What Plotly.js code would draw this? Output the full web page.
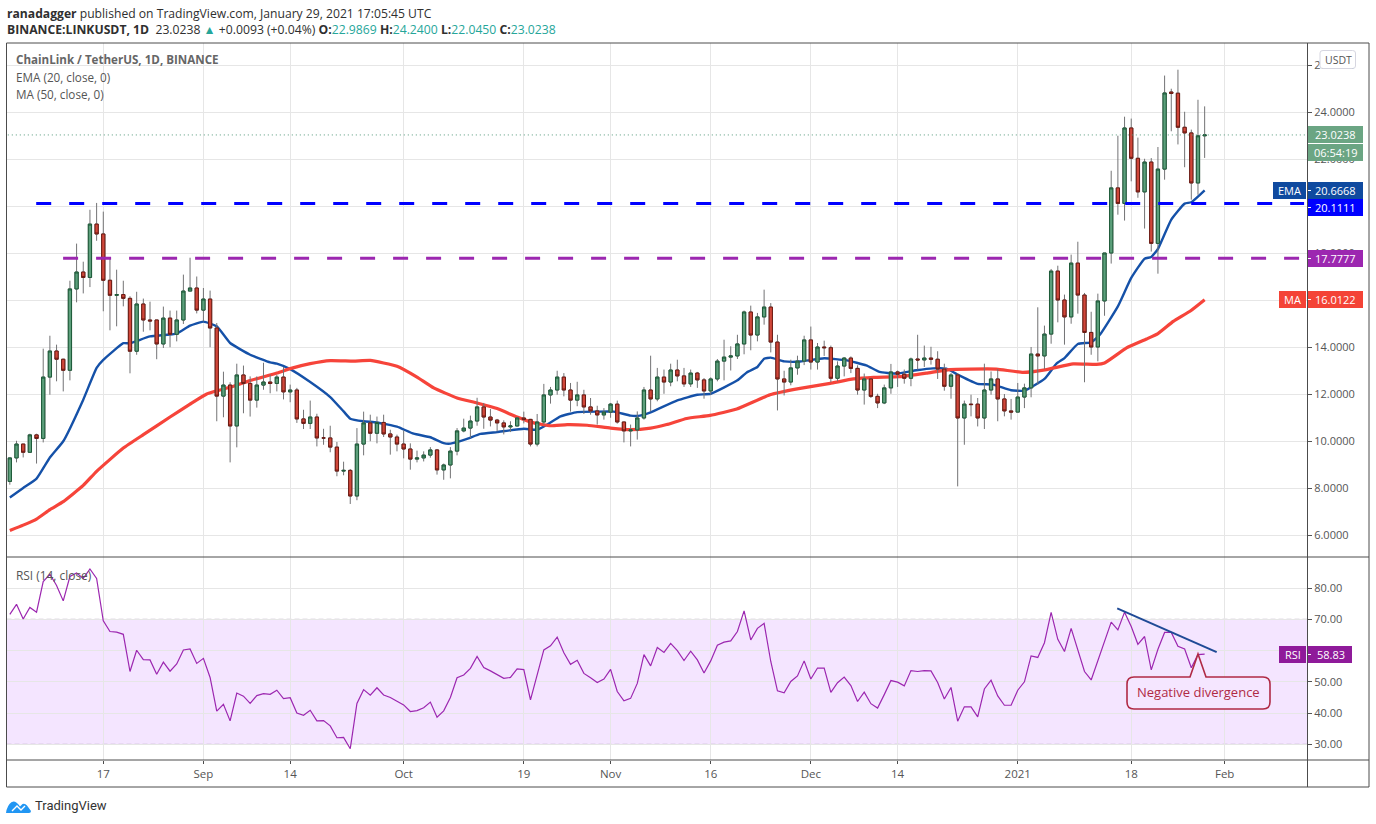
<!DOCTYPE html>
<html><head><meta charset="utf-8">
<script src="https://cdn.plot.ly/plotly-3.0.1.min.js"></script>
<style>html,body{margin:0;padding:0;background:#fff;overflow:hidden}#c{width:1376px;height:824px}</style>
</head><body><div id="c"></div>
<script>
const firstDay = Date.UTC(2020,7,3);
const opens = [8.28,9.28,9.87,9.52,10.26,10.11,12.72,13.83,13.48,13.01,
16.47,17.19,16.96,19.23,18.81,16.84,16.20,16.23,16.07,13.82,
15.83,15.15,15.15,14.13,15.23,14.54,15.15,16.38,16.51,15.57,
16.04,14.81,11.91,12.38,10.64,12.81,12.45,11.74,12.38,12.51,
12.45,12.72,12.09,12.17,10.94,10.75,11.02,10.13,10.13,9.74,
8.72,8.75,7.66,9.87,10.77,10.33,10.79,10.30,10.17,9.87,
9.66,9.23,9.28,9.40,9.62,8.77,8.98,9.57,10.43,10.55,
10.85,11.45,11.02,10.89,10.77,10.60,10.64,10.98,10.92,9.87,
10.81,11.96,12.17,12.72,12.17,11.74,11.96,11.45,11.28,11.11,
11.23,11.57,10.81,10.43,10.47,10.98,12.17,11.79,12.72,12.51,
13.02,12.77,12.43,12.89,12.60,12.13,12.64,13.40,13.57,13.62,
14.13,15.49,14.51,15.28,15.70,14.21,12.64,12.51,13.11,13.40,
14.30,13.36,14.00,13.97,12.67,13.19,13.53,13.09,12.17,12.64,
11.90,11.62,12.26,12.94,12.84,12.67,13.49,13.45,13.53,13.48,
13.06,12.33,12.81,10.98,11.57,11.57,10.98,12.17,12.64,11.79,
11.28,11.23,11.87,12.26,13.70,13.62,14.55,17.23,16.00,15.28,
17.57,16.21,14.62,14.00,15.96,18.00,20.77,20.11,23.32,22.03,
20.60,21.87,18.41,21.57,24.85,24.80,23.35,23.11,20.98,22.9869];
const closes = [9.28,9.87,9.52,10.26,10.11,12.72,13.83,13.48,13.01,16.47,
17.19,16.96,19.23,18.81,16.84,16.20,16.23,16.07,13.82,15.83,
15.15,15.11,14.13,15.23,14.54,15.15,16.38,16.51,15.57,16.04,
14.81,11.91,12.38,10.64,12.81,12.45,11.74,12.38,12.51,12.45,
12.72,12.09,12.17,10.94,10.75,11.02,10.13,10.13,9.74,8.72,
8.75,7.66,9.87,10.77,10.33,10.79,10.30,10.17,9.87,9.66,
9.23,9.28,9.40,9.62,8.77,8.98,9.57,10.43,10.55,10.85,
11.45,11.02,10.89,10.77,10.60,10.64,10.98,10.92,9.87,10.81,
11.96,12.17,12.72,12.17,11.74,11.96,11.45,11.28,11.11,11.23,
11.57,10.81,10.43,10.47,10.98,12.17,11.79,12.72,12.51,13.02,
12.77,12.43,12.89,12.60,12.13,12.64,13.40,13.57,13.62,14.13,
15.49,14.51,15.28,15.70,14.21,12.64,12.51,13.11,13.40,14.30,
13.36,14.00,13.97,12.67,13.19,13.53,13.09,12.17,12.64,11.90,
11.62,12.26,12.94,12.84,12.67,13.49,13.45,13.53,13.48,13.06,
12.33,12.81,10.98,11.57,11.55,10.98,12.17,12.64,11.79,11.28,
11.23,11.87,12.26,13.70,13.62,14.55,17.23,16.00,15.28,17.57,
16.21,14.62,14.00,15.96,18.00,20.77,20.11,23.32,22.03,20.60,
21.87,18.41,21.57,24.81,24.79,23.35,23.11,20.98,22.9869,23.0238];
const highs = [9.30,10.01,9.87,10.31,10.31,13.93,14.48,14.10,13.50,16.82,
18.40,17.63,19.84,20.13,19.76,17.79,17.29,16.82,16.16,16.35,
16.06,15.93,15.15,15.72,15.55,15.55,17.08,17.80,17.00,16.51,
16.40,15.02,12.95,12.50,13.29,13.21,12.75,12.75,13.33,12.82,
12.82,13.15,12.40,12.26,11.33,11.72,11.16,10.52,10.65,9.96,
9.12,8.81,10.55,11.25,11.12,11.04,11.12,10.48,10.27,10.45,
9.90,9.59,9.56,9.74,9.66,9.04,9.74,10.55,10.95,11.08,
11.84,11.62,11.36,10.94,10.88,10.84,11.02,11.25,10.94,11.15,
12.43,12.30,12.99,12.89,12.47,12.52,12.18,11.83,11.50,11.40,
11.62,11.72,10.81,10.70,11.26,12.30,13.63,13.11,13.04,13.29,
13.46,13.11,13.04,12.94,12.68,12.71,13.49,14.31,14.03,14.52,
15.55,15.76,15.45,16.44,15.87,14.52,12.99,13.46,13.63,14.48,
14.87,14.17,14.27,14.06,13.39,13.57,13.60,13.22,12.87,12.68,
12.01,12.40,13.28,13.00,13.04,13.55,14.52,14.06,14.01,13.82,
13.29,12.89,12.89,11.72,11.97,11.83,13.29,12.96,13.06,12.00,
11.79,12.47,12.44,14.00,15.69,14.91,17.32,17.46,16.23,17.93,
18.48,16.30,15.50,16.27,18.00,21.50,22.99,23.80,23.72,22.91,
22.01,22.04,22.51,25.55,24.99,25.80,24.01,23.25,24.52,24.24];
const lows = [8.14,9.09,9.30,9.49,9.04,9.94,11.97,12.54,12.11,12.58,
15.90,16.28,16.55,18.52,15.52,14.71,14.88,15.73,12.88,13.67,
14.65,14.71,13.48,13.96,13.99,14.24,14.98,16.38,15.43,15.09,
13.99,10.84,11.01,9.09,9.73,11.18,11.04,11.42,12.18,12.03,
12.11,11.77,11.65,10.77,10.51,10.51,9.77,9.84,9.52,8.50,
8.54,7.32,7.48,9.39,9.99,9.90,10.17,9.42,9.56,9.26,
8.78,9.09,9.13,9.29,8.57,8.35,8.41,9.39,10.37,10.13,
10.65,10.52,10.62,10.41,10.28,10.38,10.62,10.75,9.77,9.77,
10.70,11.59,11.97,11.90,11.25,11.48,11.15,11.12,10.70,10.91,
10.99,10.74,9.94,9.77,10.06,10.91,11.26,11.69,12.01,12.33,
12.54,12.30,12.30,12.26,11.80,11.97,12.54,12.58,13.00,13.49,
13.69,13.86,14.24,14.95,13.77,11.30,11.94,12.37,12.82,13.23,
13.04,13.04,13.62,12.50,12.54,12.75,12.89,11.97,11.55,11.83,
11.40,11.57,12.01,12.30,12.44,12.33,13.04,13.15,13.25,12.64,
12.14,11.80,8.07,9.84,11.05,10.62,10.51,11.97,10.84,11.05,
10.91,11.23,11.40,11.86,12.40,13.06,14.14,15.05,14.10,14.99,
15.42,12.50,13.67,13.39,15.33,17.55,19.63,19.38,21.05,20.35,
19.04,18.06,17.12,21.12,23.18,22.62,21.65,20.27,20.48,22.045];
const rsi = [71.6,74.8,70.1,73.8,72.3,82.1,84.4,80.8,75.9,83.7,
84.8,83.1,86.1,83.1,69.5,66.1,65.9,65.2,53.3,60.1,
57.1,57.0,52.4,56.3,53.4,55.7,60.2,60.5,55.9,57.5,
51.4,40.6,42.8,37.5,46.4,45.4,43.1,45.6,46.2,46.0,
47.3,44.6,44.9,40.0,39.3,40.9,37.5,37.6,35.9,32.1,
32.2,28.6,43.1,47.5,45.7,48.1,45.8,45.0,43.8,42.6,
40.5,40.8,41.7,43.5,38.7,40.7,45.0,51.3,52.2,54.3,
58.1,54.6,53.5,52.3,51.1,51.4,54.1,53.9,44.2,52.2,
60.2,61.5,64.3,59.3,55.6,56.9,52.7,51.3,49.8,50.9,
54.0,46.9,43.9,44.7,49.5,58.7,55.1,61.0,59.4,62.3,
60.0,56.8,59.8,57.0,52.8,56.7,61.7,62.7,63.1,66.1,
72.7,63.4,67.1,68.7,56.5,47.1,46.5,50.1,51.9,56.7,
50.9,54.4,54.4,46.6,49.7,51.5,48.8,43.7,46.7,43.0,
41.6,45.9,50.4,49.9,48.7,53.6,53.3,53.6,53.5,49.8,
44.5,48.2,37.4,42.0,42.0,38.8,47.7,50.5,45.5,42.5,
42.5,47.3,50.0,58.3,57.8,62.5,72.2,63.6,59.7,67.1,
60.2,53.3,50.6,56.9,62.9,69.1,66.6,72.3,67.7,62.0,
64.5,53.8,60.4,65.8,65.8,61.4,60.5,54.5,58.7,58.83];
const emaDays = [0,2,4,6,8,11,13,14,17,18,21,25,27,29,31,33,36,39,40,42,45,48,50,51,53,55,58,60.5,63,65,66,68.5,70.5,73,77,79,80.5,82.5,85,88,90.5,93,94.4,96,100,103,105,109,110.4,112,113,114,116,118.4,122,125.4,128.3,130.3,132.8,135.8,138.3,140.3,142.3,145,147.3,150,152,155,156.8,158,160,162,163.3,166,168,170,171,172,174,176,177,179];
const emaValues = [7.60,8.00,8.40,9.30,9.99,11.76,13.11,13.45,14.16,14.16,14.45,14.57,14.91,15.08,14.88,14.17,13.67,13.35,13.29,13.06,12.51,11.87,11.26,10.95,10.84,10.79,10.61,10.31,10.16,9.91,9.89,10.09,10.30,10.38,10.52,10.48,10.70,11.05,11.23,11.25,11.25,11.08,11.08,11.22,11.73,11.97,12.01,12.58,12.92,13.15,13.50,13.55,13.39,13.38,13.52,13.43,13.22,12.94,12.87,13.01,13.09,13.08,12.78,12.43,12.40,12.16,12.14,12.64,13.29,13.53,14.13,14.20,14.52,15.73,16.94,17.76,17.83,18.17,19.42,20.10,20.16,20.6668];
const maDays = [0,2,4,6,8,11,13,17,20,24,27,29.5,33.5,36,40,42,45,48,51.5,54,58,61,63.5,67,70,73,76,78.5,81,83.5,86.5,90,93,96,98.4,101.4,104.9,108.9,113.9,118.4,122.9,126.4,129.4,133.3,137.3,140.8,143.8,147.8,151.8,155.3,159.3,162.8,164,167.3,170.3,172,174.3,176.8,179];
const maValues = [6.19,6.42,6.68,7.08,7.42,8.11,8.71,9.70,10.27,11.02,11.57,12.00,12.33,12.57,12.89,13.08,13.29,13.42,13.40,13.43,13.18,12.72,12.26,11.83,11.62,11.38,11.02,10.77,10.65,10.70,10.67,10.55,10.48,10.55,10.70,10.96,11.09,11.36,11.97,12.24,12.45,12.64,12.71,12.74,12.89,13.04,13.06,13.06,12.92,13.04,13.28,13.26,13.32,13.96,14.34,14.57,15.09,15.52,16.0122];
const blueLevel = 20.1111, purpleLevel = 17.7777, lastPrice = 23.0238;
const tickDates = ['2020-08-17','2020-09-01','2020-09-14','2020-10-01','2020-10-19','2020-11-01','2020-11-16','2020-12-01','2020-12-14','2021-01-01','2021-01-18','2021-02-01'];
const tickLabels = ['17','Sep','14','Oct','19','Nov','16','Dec','14','2021','18','Feb'];
const priceTicks = [6,8,10,12,14,16,18,20,22,24,26];
const rsiTicks = [30,40,50,60,70,80];
const trendDays = [165.9,180.8], trendValues = [73.5,59.5];

const FONT = '"Open Sans", sans-serif';
const d = i => new Date(firstDay + i*864e5).toISOString().slice(0,19);
const days = opens.map((_,i)=>d(i));
const W=1376,H=824, fx=x=>x/W, fy=y=>1-y/H;

const common = {xaxis:'x', hoverinfo:'skip', showlegend:false};
const wick = '#737375';
const traces = [
 {...common,type:'scatter',mode:'lines',yaxis:'y',x:emaDays.map(d),y:emaValues,line:{color:'#1551a8',width:2.4,shape:'spline',smoothing:0.4}},
 {...common,type:'scatter',mode:'lines',yaxis:'y',x:maDays.map(d),y:maValues,line:{color:'#f6443a',width:3.2,shape:'spline',smoothing:0.4}},
 {...common,type:'candlestick',yaxis:'y3',x:days,open:opens,high:highs,low:lows,close:closes,whiskerwidth:0,
  increasing:{line:{color:wick,width:1},fillcolor:wick},decreasing:{line:{color:wick,width:1},fillcolor:wick}},
 {...common,type:'candlestick',yaxis:'y3',x:days,open:opens,close:closes,
  high:opens.map((o,i)=>Math.max(o,closes[i])),low:opens.map((o,i)=>Math.min(o,closes[i])),whiskerwidth:0,
  increasing:{line:{color:'#1d5b39',width:1},fillcolor:'#5c9f7b'},decreasing:{line:{color:'#6d1a12',width:1},fillcolor:'#d0473a'}},
 {...common,type:'scatter',mode:'lines',yaxis:'y4',x:[d(-3.9),d(195)],y:[lastPrice,lastPrice],line:{color:'#53987a',width:1,dash:'1px,3px'}},
 {...common,type:'scatter',mode:'lines',yaxis:'y4',x:[d(3.95),d(193.9)],y:[blueLevel,blueLevel],line:{color:'#0000ff',width:3,dash:'15px,18px'}},
 {...common,type:'scatter',mode:'lines',yaxis:'y4',x:[d(7.98),d(194)],y:[purpleLevel,purpleLevel],line:{color:'#9c27b0',width:3,dash:'15px,18px'}},
 {...common,type:'scatter',mode:'lines',yaxis:'y2',x:days,y:rsi,line:{color:'#9c27b0',width:1.2}},
 {...common,type:'scatter',mode:'lines',yaxis:'y2',x:trendDays.map(d),y:trendValues,line:{color:'#1f4a96',width:2}}
];

const priceRange=[5.064,26.936], rsiRange=[24.98,89.94];
const rect=(x0,y0,x1,y1,fill,extra={})=>({type:'rect',xref:'paper',yref:'paper',x0:fx(x0),x1:fx(x1),y0:fy(y0),y1:fy(y1),fillcolor:fill,line:{width:0},layer:'above',...extra});
const ln=(x0,y0,x1,y1,color,w=1)=>({type:'line',xref:'paper',yref:'paper',x0:fx(x0),x1:fx(x1),y0:fy(y0),y1:fy(y1),line:{color,width:w},layer:'above'});
const path=(s,fill,line)=>({type:'path',xref:'paper',yref:'paper',path:s.replace(/(-?[\d.]+) (-?[\d.]+)/g,(m,a,b)=>fx(+a)+' '+fy(+b)),fillcolor:fill,line,layer:'above'});
const frame='#4c4c4c';
const tags=[[126,143,'#6ba583'],[144,161,'#6ba583'],[182,199,'#0f4a9f'],[199,216,'#0000ff'],[250,267,'#9c27b0'],[291,308,'#f44336']];
const shapes=[
 {type:'rect',xref:'paper',yref:'y2',x0:fx(6.5),x1:fx(1307),y0:30,y1:70,fillcolor:'rgba(152,0,255,0.1)',line:{width:0},layer:'below'},
 {type:'line',xref:'paper',yref:'y2',x0:fx(6.5),x1:fx(1307),y0:70,y1:70,line:{color:'#b4a3bc',width:1,dash:'5px,3px'},layer:'below'},
 {type:'line',xref:'paper',yref:'y2',x0:fx(6.5),x1:fx(1307),y0:30,y1:30,line:{color:'#b4a3bc',width:1,dash:'5px,3px'},layer:'below'},
 ...tags.map(t=>rect(1307,t[0],1363,t[1],t[2])),
 rect(1273,182,1306,199,'#0f4a9f'), rect(1279,291,1306,308,'#f44336'),
 rect(1279,646,1306,663,'#8f1a9a'), rect(1307,646,1352,663,'#8f1a9a'),
 ...[190.5,207.5,258.5,299.5,654.5].map(y=>ln(1307,y,1311,y,'#ffffff',1)),
 ln(6.5,43,1369,43,frame), ln(6.5,787,1369,787,frame), ln(6.5,43,6.5,787,frame), ln(1369,43,1369,787,frame),
 ln(1307.5,43,1307.5,787,frame), ln(6.5,557,1369,557,frame), ln(6.5,760,1369,760,frame),
 path('M1320 53 Q1320 50.5 1323 50.5 L1352.5 50.5 Q1355.5 50.5 1355.5 53 L1355.5 66 Q1355.5 68.5 1352.5 68.5 L1323 68.5 Q1320 68.5 1320 66 Z','#ffffff',{color:'#d6d6e0',width:1}),
 path('M1134 677 L1190 677 L1198 654 L1206 677 L1263 677 Q1270 677 1270 684 L1270 702 Q1270 709 1263 709 L1134 709 Q1127 709 1127 702 L1127 684 Q1127 677 1134 677 Z','#f5e6ff',{color:'#b02a45',width:1.6}),
 path('M6 813 L6.5 810 Q9 802 13.5 801.5 Q16.5 801.5 20 806.5 L22.5 804 Q25 803 27 805.5 L31 811 Q31 813 29 813 Z','#2196f3',{width:0}),
 {type:'path',xref:'paper',yref:'paper',path:`M${fx(12)} ${fy(811)} L${fx(17)} ${fy(806)} L${fx(21)} ${fy(810)} L${fx(25)} ${fy(806)}`,line:{color:'#ffffff',width:1.4},layer:'above'}
];
const T=(x,y,text,o={})=>({xref:'paper',yref:'paper',x:fx(x),y:fy(y),text,showarrow:false,xanchor:o.a||'left',yanchor:'middle',align:o.a||'left',
 font:{family:o.f||FONT,size:o.s||12,color:o.c||'#555555'},borderpad:0});
const tv='#26a69a';
const v=(s)=>`<span style="color:${tv}">${s}</span>`;
const annotations=[
 T(5.5,13,'<b>ranadagger</b> published on TradingView.com, January 29, 2021 17:05:45 UTC',{c:'#2f2f2f',s:12.15}),
 T(5.5,30,`<b>BINANCE:LINKUSDT, 1D</b>&nbsp;&nbsp;23.0238 ${v('▲')} +0.0093 (+0.04%) <b>O:</b>${v('22.9869')} <b>H:</b>${v('24.2400')} <b>L:</b>${v('22.0450')} <b>C:</b>${v('23.0238')}`,{c:'#2f2f2f',s:12.2}),
 T(14.5,60,'<b>ChainLink / TetherUS, 1D, BINANCE</b>',{s:11.6,c:'#666666'}),
 T(14.5,77,'EMA (20, close, 0)',{s:11.7}),
 T(14.5,94,'MA (50, close, 0)',{s:11.7}),
 T(14.5,575,'RSI (14, close)',{s:11.9}),
 T(1338,59.5,'USDT',{a:'center',s:10.5}),
 T(1335.5,134.5,'23.0238',{a:'center',c:'#fff',s:11}),
 T(1335.5,152.5,'06:54:19',{a:'center',c:'#fff',s:11}),
 T(1335.5,190.5,'20.6668',{a:'center',c:'#fff',s:11}),
 T(1335.5,207.5,'20.1111',{a:'center',c:'#fff',s:11}),
 T(1335.5,258.5,'17.7777',{a:'center',c:'#fff',s:11}),
 T(1335.5,299.5,'16.0122',{a:'center',c:'#fff',s:11}),
 T(1289.5,190.5,'EMA',{a:'center',c:'#fff',s:11}),
 T(1292.5,299.5,'MA',{a:'center',c:'#fff',s:11}),
 T(1292.5,654.5,'RSI',{a:'center',c:'#fff',s:11}),
 T(1331,654.5,'58.83',{a:'center',c:'#fff',s:11}),
 T(1198.5,692,'Negative divergence',{a:'center',c:'#b02a45',s:13}),
 T(33.5,805,'TradingView',{c:'#333333',s:13,f:'Roboto, sans-serif'})
];
const hidden={range:priceRange,overlaying:'y',side:'right',showgrid:false,zeroline:false,showticklabels:false,ticks:'',fixedrange:true};
const tickFont={family:FONT,size:11,color:'#555'};
const layout={
 width:W,height:H,autosize:false,margin:{l:0,r:0,t:0,b:0},paper_bgcolor:'#fff',plot_bgcolor:'#fff',showlegend:false,dragmode:false,
 font:{family:FONT,size:11,color:'#555'},boxgap:0.3,
 xaxis:{type:'date',domain:[fx(6.5),fx(1307)],range:['2020-08-02 12:00','2021-02-13 08:00'],anchor:'y2',tickmode:'array',tickvals:tickDates,ticktext:tickLabels,
  showgrid:true,gridcolor:'#e6e6e6',gridwidth:1,ticks:'outside',ticklen:3,tickcolor:'#4c4c4c',zeroline:false,showline:false,rangeslider:{visible:false},
  tickfont:{family:FONT,size:11.5,color:'#555'},fixedrange:true},
 yaxis:{domain:[fy(557),fy(43)],range:priceRange,side:'right',anchor:'x',tickmode:'array',tickvals:priceTicks,tickformat:'.4f',showgrid:true,gridcolor:'#e6e6e6',gridwidth:1,
  ticks:'outside',ticklen:4,tickcolor:'#555',zeroline:false,showline:false,tickfont:tickFont,fixedrange:true},
 yaxis2:{domain:[fy(760),fy(557)],range:rsiRange,side:'right',anchor:'x',tickmode:'array',tickvals:rsiTicks,tickformat:'.2f',showgrid:true,gridcolor:'#e6e6e6',gridwidth:1,
  ticks:'outside',ticklen:4,tickcolor:'#555',zeroline:false,showline:false,tickfont:tickFont,fixedrange:true},
 yaxis3:{...hidden,anchor:'x'},
 yaxis4:{...hidden,anchor:'x'},
 shapes,annotations
};
Plotly.newPlot('c',traces,layout,{displayModeBar:false,staticPlot:true});
</script></body></html>
